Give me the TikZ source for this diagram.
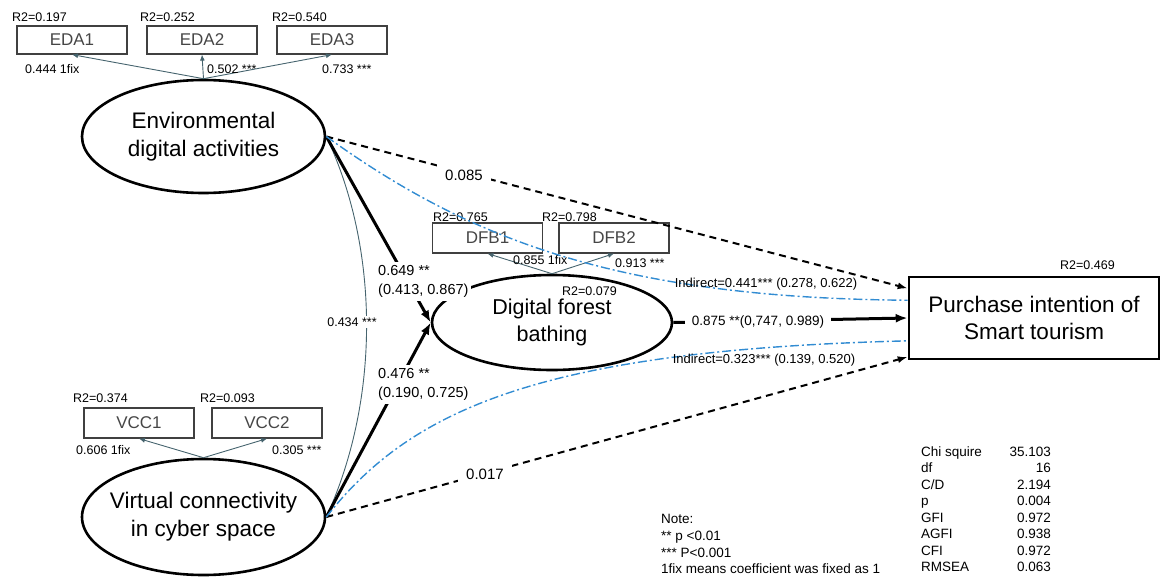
\documentclass[tikz,border=0pt]{standalone}
\usepackage{fontspec}
\setmainfont{Liberation Sans}
\usetikzlibrary{arrows.meta,calc,shapes.geometric}
\newcommand\myfs[2]{\fontsize{#1}{#2}\selectfont}
\definecolor{loadc}{RGB}{70,100,110}
\definecolor{indc}{RGB}{50,140,210}
\definecolor{boxtext}{RGB}{70,70,70}
\begin{document}
\begin{tikzpicture}[x=1pt,y=-1pt,
  latent/.style={ellipse,draw=black,line width=2.6pt,inner sep=0pt,align=center,font=\myfs{22.5}{28}},
  obs/.style={rectangle,draw=black!75,line width=1.2pt,minimum width=110pt,minimum height=29pt,inner sep=0pt,font=\myfs{17}{17},text=boxtext},
  lbl/.style={font=\myfs{12.5}{12.5},inner sep=0pt,anchor=west},
  load/.style={draw=loadc,line width=0.9pt,-{Latex[length=6pt,width=5pt]}},
  thickarrow/.style={line width=3pt,-{Latex[length=12pt,width=9pt]}},
  dasharrow/.style={line width=2pt,dash pattern=on 7pt off 5pt,-{Latex[length=10pt,width=7pt]}},
  indirect/.style={draw=indc,line width=1.4pt,dash pattern=on 9pt off 3pt on 2pt off 3pt},
  coef/.style={fill=white,font=\myfs{14.5}{19.5},align=left,inner sep=3pt},
  tab/.style={font=\myfs{13.5}{13.5},inner sep=0pt}
]
\useasboundingbox (0,0) rectangle (1161,578);

% latent variables
\node[latent,minimum width=243pt,minimum height=113pt] (eda) at (203.5,136.5) {Environmental\\digital activities};
\node[latent,minimum width=243pt,minimum height=116pt] (vcc) at (203.5,517) {\makebox[150pt][c]{Virtual connectivity}\\in cyber space};
\node[latent,minimum width=240pt,minimum height=95pt,font=\myfs{21.5}{27}] (dfb) at (552,322.5) {Digital forest\\bathing};
\node[rectangle,draw=black,line width=2.6pt,minimum width=250pt,minimum height=82pt,align=center,font=\myfs{22.5}{27}] (pi) at (1034,318) {Purchase intention of\\Smart tourism};

% observed variables
\node[obs,minimum height=28pt] (eda1) at (72,40) {EDA1};
\node[obs,minimum height=28pt] (eda2) at (202,40) {EDA2};
\node[obs,minimum height=28pt] (eda3) at (332,40) {EDA3};
\node[obs,minimum height=30pt] (dfb1) at (487.5,238) {DFB1};
\node[obs,minimum height=30pt] (dfb2) at (614,238) {DFB2};
\node[obs,minimum height=30pt] (vcc1) at (139,423) {VCC1};
\node[obs,minimum height=30pt] (vcc2) at (267,423) {VCC2};

% R2 labels
\node[lbl] (r1) at (12,17) {R2=0.197};
\node[lbl] (r2) at (140,17) {R2=0.252};
\node[lbl] (r3) at (272,17) {R2=0.540};
\node[lbl] (r4) at (433,217) {R2=0.765};
\node[lbl] (r5) at (542,217) {R2=0.798};
\node[lbl] (r6) at (562,291) {R2=0.079};
\node[lbl] (r7) at (1060,265) {R2=0.469};
\node[lbl] (r8) at (73,398) {R2=0.374};
\node[lbl] (r9) at (200,398) {R2=0.093};

% loadings
\draw[load] (eda.north) -- (eda1.south);
\draw[load] (eda.north) -- (eda2.south);
\draw[load] (eda.north) -- (eda3.south);
\draw[load] (dfb.north) -- (dfb1.south);
\draw[load] (dfb.north) -- (dfb2.south);
\draw[load] (vcc.north) -- (vcc1.south);
\draw[load] (vcc.north) -- (vcc2.south);
\node[lbl] (l1) at (25,69) {0.444 1fix};
\node[lbl] (l2) at (207,69) {0.502 ***};
\node[lbl] (l3) at (322,69) {0.733 ***};
\node[lbl] (l4) at (513,260) {0.855 1fix};
\node[lbl] (l5) at (615,263) {0.913 ***};
\node[lbl] (l6) at (76,450) {0.606 1fix};
\node[lbl] (l7) at (272,450) {0.305 ***};

% covariance
\draw[draw=loadc,line width=0.9pt] (eda.east) .. controls (380,250) and (380,400) .. (vcc.east);
\node[fill=white,font=\myfs{12.5}{12.5},inner sep=2pt] (cov) at (352,322) {0.434 ***};

% direct paths
\draw[dasharrow] (eda.east) -- ($(pi.north west)!0.15!(pi.south west)$);
\node[fill=white,font=\myfs{15}{15},inner sep=8pt] (d1) at (464,175) {0.085};
\draw[dasharrow] (vcc.east) -- ($(pi.north west)!0.96!(pi.south west)$);
\node[fill=white,font=\myfs{15}{15},inner sep=8pt] (d2) at (485,474) {0.017};

\draw[thickarrow] (eda.east) -- (dfb.west);
\node[coef,anchor=north west] (c1) at (375,262) {0.649 **\\(0.413, 0.867)};
\draw[thickarrow] (vcc.east) -- (dfb.west);
\node[coef,anchor=north west] (c2) at (375,365) {0.476 **\\(0.190, 0.725)};

\draw[thickarrow] (dfb.east) -- (pi.west);
\node[fill=white,font=\myfs{13.5}{13.5},inner sep=7pt] (c3) at (758,322) {0.875 **(0,747, 0.989)};

% indirect paths
\draw[indirect] (eda.east) .. controls (470,240) and (620,298) .. ($(pi.north west)!0.29!(pi.south west)$);
\draw[indirect] (vcc.east) .. controls (410,410) and (540,350) .. ($(pi.north west)!0.77!(pi.south west)$);
\node[font=\myfs{13}{13},inner sep=0pt] (i1) at (766,284) {Indirect=0.441*** (0.278, 0.622)};
\node[font=\myfs{13}{13},inner sep=0pt] (i2) at (764,360) {Indirect=0.323*** (0.139, 0.520)};

% note
\node[tab,anchor=base west] (n1) at (661,523) {Note:};
\node[tab,anchor=base west] (n2) at (661,540) {** p <0.01};
\node[tab,anchor=base west] (n3) at (661,557) {*** P<0.001};
\node[tab,anchor=base west] (n4) at (661,573) {1fix means coefficient was fixed as 1};

% fit table
\foreach \k/\v [count=\i from 0] in {Chi squire/35.103,df/16,{C/D}/2.194,p/0.004,GFI/0.972,AGFI/0.938,CFI/0.972,RMSEA/0.063}{
  \node[tab,anchor=base west] (fk\i) at (921,456+16.5*\i) {\k};
  \node[tab,anchor=base east] (fv\i) at (1051,456+16.5*\i) {\v};
}
\end{tikzpicture}
\end{document}
